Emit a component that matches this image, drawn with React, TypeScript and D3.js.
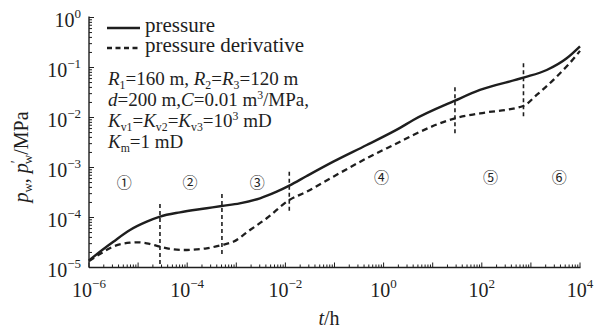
import React from "react";
import * as d3 from "d3";

const W = 603, H = 329;
const M = { left: 89, right: 580, top: 17.5, bottom: 267.5 };

// pressure (solid)
const pT = [1.0e-6, 1.67e-6, 3.13e-6, 6.84e-6, 1.5e-5, 2.79e-5, 7.13e-5, 2.49e-4, 5.05e-4, 1.17e-3, 3.04e-3, 6.65e-3, 0.012, 0.0272, 0.0946, 0.453, 2.16, 4.03, 28.4, 91.8, 700, 2100, 5360, 1.0e4];
const pV = [1.38e-5, 2.07e-5, 3.28e-5, 5.62e-5, 8.24e-5, 1.04e-4, 1.27e-4, 1.53e-4, 1.7e-4, 1.92e-4, 2.42e-4, 3.28e-4, 4.33e-4, 6.76e-4, 1.31e-3, 2.82e-3, 6.2e-3, 8.9e-3, 0.0217, 0.0355, 0.0625, 0.0891, 0.153, 0.265];
// pressure derivative (dashed)
const dT = [1.0e-6, 1.67e-6, 3.08e-6, 6.84e-6, 9.35e-6, 1.5e-5, 2.79e-5, 5.14e-5, 8.2e-5, 1.56e-4, 2.49e-4, 5.05e-4, 8.69e-4, 1.9e-3, 4.16e-3, 0.012, 0.0272, 0.0946, 0.453, 2.16, 4.03, 28.4, 91.8, 700, 1310, 3350, 8570, 1.0e4];
const dV = [1.35e-5, 1.86e-5, 2.61e-5, 3.13e-5, 3.19e-5, 3.05e-5, 2.61e-5, 2.31e-5, 2.24e-5, 2.31e-5, 2.42e-5, 2.82e-5, 3.28e-5, 5.62e-5, 9.64e-5, 2.24e-4, 3.28e-4, 6.55e-4, 1.53e-3, 3.28e-3, 4.47e-3, 9.64e-3, 0.0121, 0.017, 0.0282, 0.0655, 0.178, 0.215];

// flow-regime boundaries
const bT = [2.79e-5, 5.1e-4, 0.012, 28.4, 706];
const bTop = [1.86e-4, 2.95e-4, 8.24e-4, 0.0402, 0.121];
const bBot = [1.0e-5, 1.64e-5, 1.21e-4, 4.47e-3, 0.0104];

// regime labels
const regLabels = ["①", "②", "③", "④", "⑤", "⑥"];
const regT = [5.2e-6, 1.14e-4, 2.68e-3, 0.91, 151, 3790];
const regP = [4.9e-4, 4.9e-4, 4.9e-4, 6.4e-4, 6.4e-4, 6.4e-4];

const xTickExps = [-6, -4, -2, 0, 2, 4];
const yTickExps = [0, -1, -2, -3, -4, -5];

const SERIF = "'Liberation Serif', 'Times New Roman', serif";
const INK = "#1e1e1e";

type Seg = { t: string; s?: "i" | "sub" | "sup" | "n" };

function RichText({ x, y, segs, size }: { x: number; y: number; segs: Seg[]; size: number }) {
  let cur = 0;
  const out: React.ReactNode[] = [];
  segs.forEach((g, i) => {
    let target = 0;
    let fs = size;
    if (g.s === "sub") { target = size * 0.22; fs = size * 0.62; }
    if (g.s === "sup") { target = -size * 0.38; fs = size * 0.62; }
    const dy = target - cur;
    cur = target;
    out.push(
      <tspan key={i} dy={dy} fontSize={fs} fontStyle={g.s === "i" ? "italic" : "normal"}>
        {g.t}
      </tspan>
    );
  });
  return (
    <text x={x} y={y} fontFamily={SERIF} fontSize={size} fill={INK}>
      {out}
    </text>
  );
}

export default function App() {
  const x = d3.scaleLog().domain([1e-6, 1e4]).range([M.left, M.right]);
  const y = d3.scaleLog().domain([1e-5, 1]).range([M.bottom, M.top]);

  const line = d3
    .line<[number, number]>()
    .x((d) => x(d[0]))
    .y((d) => y(d[1]))
    .curve(d3.curveMonotoneX);

  const pPath = line(pT.map((t, i) => [t, pV[i]] as [number, number])) || "";
  const dPath = line(dT.map((t, i) => [t, dV[i]] as [number, number])) || "";

  const xMinor: number[] = [];
  for (let e = -6; e < 4; e++) for (let k = 1; k <= 9; k++) xMinor.push(k * Math.pow(10, e));
  xMinor.push(1e4);
  const yMinor: number[] = [];
  for (let e = -5; e < 0; e++) for (let k = 1; k <= 9; k++) yMinor.push(k * Math.pow(10, e));
  yMinor.push(1);

  const isMajor = (v: number) => Math.abs(Math.log10(v) - Math.round(Math.log10(v))) < 1e-9;

  const params: Seg[][] = [
    [{ t: "R", s: "i" }, { t: "1", s: "sub" }, { t: "=160 m, " }, { t: "R", s: "i" }, { t: "2", s: "sub" }, { t: "=" }, { t: "R", s: "i" }, { t: "3", s: "sub" }, { t: "=120 m" }],
    [{ t: "d", s: "i" }, { t: "=200 m," }, { t: "C", s: "i" }, { t: "=0.01 m" }, { t: "3", s: "sup" }, { t: "/MPa," }],
    [{ t: "K", s: "i" }, { t: "v1", s: "sub" }, { t: "=" }, { t: "K", s: "i" }, { t: "v2", s: "sub" }, { t: "=" }, { t: "K", s: "i" }, { t: "v3", s: "sub" }, { t: "=10" }, { t: "3", s: "sup" }, { t: " mD" }],
    [{ t: "K", s: "i" }, { t: "m", s: "sub" }, { t: "=1 mD" }],
  ];

  return (
    <svg width={W} height={H} style={{ position: "absolute", left: 0, top: 0, background: "#fff" }}>
      <rect x={0} y={0} width={W} height={H} fill="#fff" />
      {/* axes */}
      <line x1={M.left} x2={M.left} y1={M.top - 1} y2={M.bottom} stroke={INK} strokeWidth={1.4} />
      <line x1={M.left} x2={M.right + 0.5} y1={M.bottom} y2={M.bottom} stroke={INK} strokeWidth={1.4} />
      {xMinor.map((v, i) => (
        <line key={"xt" + i} x1={x(v)} x2={x(v)} y1={M.bottom} y2={M.bottom - (isMajor(v) ? 5 : 3)} stroke={INK} strokeWidth={1} />
      ))}
      {yMinor.map((v, i) => (
        <line key={"yt" + i} x1={M.left} x2={M.left + (isMajor(v) ? 5 : 3)} y1={y(v)} y2={y(v)} stroke={INK} strokeWidth={1} />
      ))}
      {xTickExps.map((e) => (
        <text key={"xl" + e} x={x(Math.pow(10, e))} y={296.5} textAnchor="middle" fontFamily={SERIF} fontSize={20} fill={INK}>
          10
          <tspan dy={-9} fontSize={13}>{e < 0 ? "−" + -e : String(e)}</tspan>
        </text>
      ))}
      {yTickExps.map((e) => (
        <text key={"yl" + e} x={81} y={y(Math.pow(10, e)) + 9} textAnchor="end" fontFamily={SERIF} fontSize={20} fill={INK}>
          10
          <tspan dy={-9} fontSize={13}>{e < 0 ? "−" + -e : String(e)}</tspan>
        </text>
      ))}
      {/* axis titles */}
      <text x={329} y={325} textAnchor="middle" fontFamily={SERIF} fontSize={20} fill={INK}>
        <tspan fontStyle="italic">t</tspan>/h
      </text>
      <text transform="translate(28,157) rotate(-90)" textAnchor="middle" fontFamily={SERIF} fontSize={20} fill={INK}>
        <tspan fontStyle="italic">p</tspan>
        <tspan dy={4} fontSize={13}>w</tspan>
        <tspan dy={-4}>, </tspan>
        <tspan fontStyle="italic">p</tspan>
        <tspan dy={-7} fontSize={14}>′</tspan>
        <tspan dx={-4} dy={11} fontSize={13}>w</tspan>
        <tspan dy={-4}>/MPa</tspan>
      </text>
      {/* boundaries */}
      {bT.map((t, i) => (
        <line key={"b" + i} x1={x(t)} x2={x(t)} y1={y(bTop[i])} y2={y(bBot[i])} stroke={INK} strokeWidth={1.6} strokeDasharray="4 3" />
      ))}
      {/* curves */}
      <path d={pPath} fill="none" stroke={INK} strokeWidth={2.4} />
      <path d={dPath} fill="none" stroke={INK} strokeWidth={2.3} strokeDasharray="6 4" />
      {/* regime labels */}
      {regLabels.map((l, i) => (
        <text key={"r" + i} x={x(regT[i])} y={y(regP[i]) + 5.5} textAnchor="middle" fontFamily="'Noto Sans CJK SC', 'DejaVu Sans', sans-serif" fontSize={15} fill={INK}>
          {l}
        </text>
      ))}
      {/* legend */}
      <line x1={107} x2={140} y1={28} y2={28} stroke={INK} strokeWidth={2.4} />
      <text x={145} y={32} fontFamily={SERIF} fontSize={21} fill={INK}>pressure</text>
      <line x1={107} x2={140} y1={48} y2={48} stroke={INK} strokeWidth={2.3} strokeDasharray="5 3.5" />
      <text x={145} y={52} fontFamily={SERIF} fontSize={21} fill={INK}>pressure derivative</text>
      {params.map((segs, i) => (
        <RichText key={"p" + i} x={108} y={85 + i * 21} segs={segs} size={19} />
      ))}
    </svg>
  );
}
